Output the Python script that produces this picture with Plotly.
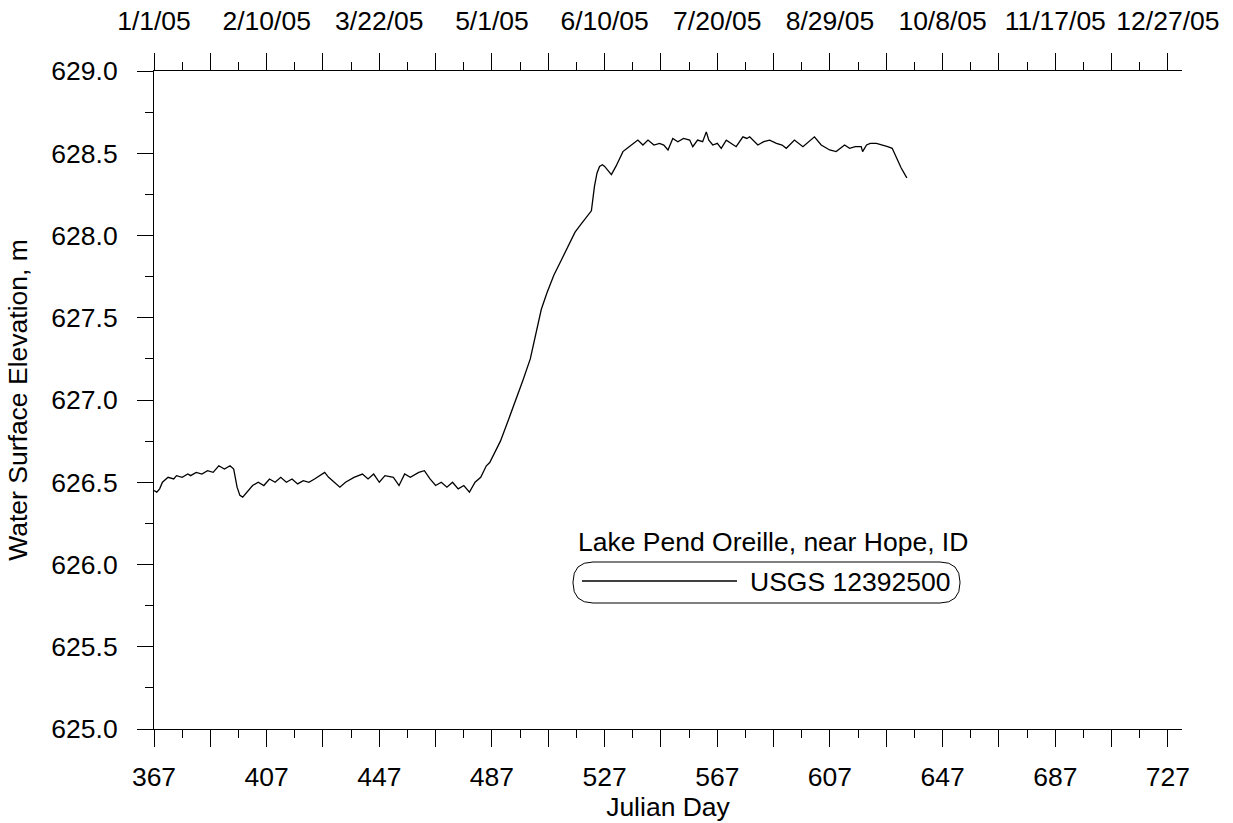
import plotly.graph_objects as go

# ---- data ----
julian_day = [367, 368, 369, 370, 372, 374, 375, 377, 379, 380, 382, 384, 386, 388, 390, 392, 394, 395.3,
              396.5, 397.5, 398.5, 400, 402, 404, 406, 408, 410, 412, 414, 416, 418, 420, 422, 424, 426,
              427.6, 429, 431, 433, 435, 438, 441, 443, 445, 447, 449, 452, 454, 456, 458, 461, 463, 465,
              467, 469, 471, 473, 475, 477, 479, 481, 483, 485, 486.2, 488, 490, 492, 494, 496, 498, 500.6,
              502.5, 504.5, 506.5, 509, 511.6, 514.6, 516.5, 518.7, 521, 522.3, 523.4, 524.3, 525.2, 526.2,
              527, 528.3, 529.4, 531, 532.3, 533.5, 535, 536.5, 538.8, 540.6, 542.4, 544.5, 546.5, 548,
              549.5, 551.2, 553, 555, 557.2, 558.3, 560, 561.8, 563.1, 564, 565.4, 567, 568.4, 570.2, 572,
              573.7, 576.1, 577.5, 578.5, 581.4, 583.5, 585.6, 588, 590, 591.5, 594.4, 597.4, 599.5, 601.5,
              603.9, 606.9, 609.2, 612.2, 614, 616, 618.1, 618.6, 620, 621.3, 623.5, 625.8, 627.5, 629.1,
              630.5, 632.3, 634.3]
elevation_m = [626.45, 626.44, 626.46, 626.50, 626.53, 626.52, 626.54, 626.53, 626.55, 626.54, 626.56,
               626.55, 626.57, 626.56, 626.60, 626.58, 626.60, 626.58,
               626.47, 626.42, 626.41, 626.44, 626.48, 626.50, 626.48, 626.52, 626.50, 626.53, 626.50,
               626.52, 626.49, 626.51, 626.50, 626.52, 626.54,
               626.56, 626.53, 626.50, 626.47, 626.50, 626.53, 626.55, 626.52, 626.55, 626.50, 626.54,
               626.53, 626.48, 626.55, 626.53, 626.56, 626.57, 626.52,
               626.48, 626.50, 626.47, 626.50, 626.46, 626.48, 626.44, 626.50, 626.53, 626.60, 626.62,
               626.68, 626.75, 626.84, 626.93, 627.02, 627.12, 627.25,
               627.40, 627.55, 627.65, 627.76, 627.85, 627.95, 628.02, 628.07, 628.12, 628.15, 628.30,
               628.38, 628.42, 628.43,
               628.42, 628.39, 628.37, 628.42, 628.47, 628.51, 628.53, 628.55, 628.58, 628.55, 628.58,
               628.55, 628.56, 628.55,
               628.52, 628.59, 628.57, 628.59, 628.58, 628.54, 628.58, 628.57, 628.63, 628.58, 628.55,
               628.56, 628.53, 628.58, 628.56,
               628.54, 628.60, 628.59, 628.60, 628.55, 628.57, 628.58, 628.56, 628.55, 628.53, 628.58,
               628.54, 628.57, 628.60,
               628.55, 628.52, 628.51, 628.55, 628.53, 628.54, 628.54, 628.51, 628.55, 628.56, 628.56,
               628.55, 628.54, 628.53,
               628.48, 628.41, 628.35]

series_name = "USGS 12392500"
legend_title = "Lake Pend Oreille, near Hope, ID"

major_x_ticks = list(range(367, 728, 20))
bottom_labels = ["367", "", "407", "", "447", "", "487", "", "527", "", "567", "", "607", "", "647", "",
                 "687", "", "727"]
top_labels = ["1/1/05", "", "2/10/05", "", "3/22/05", "", "5/1/05", "", "6/10/05", "", "7/20/05", "",
              "8/29/05", "", "10/8/05", "", "11/17/05", "", "12/27/05"]

# ---- layout geometry ----
W, H = 1233, 823
L, R, T, B = 154, 51, 71, 94
PW, PH = W - L - R, H - T - B
FONT = "Liberation Sans, Arial, sans-serif"
FS = 26.5


def px(x):
    return (x - L) / PW


def py(y):
    return (H - B - y) / PH


fig = go.Figure()
fig.add_trace(go.Scatter(x=julian_day, y=elevation_m, mode="lines", name=series_name,
                         line=dict(color="black", width=1.3), showlegend=False))
fig.add_trace(go.Scatter(x=[], y=[], xaxis="x2", showlegend=False, hoverinfo="skip"))

axis_common = dict(showline=True, linecolor="black", linewidth=1, showgrid=False, zeroline=False,
                   ticks="outside", ticklen=17, tickcolor="black", tickwidth=1, automargin=False,
                   tickfont=dict(family=FONT, size=FS, color="black"))

fig.update_layout(
    width=W, height=H,
    margin=dict(l=L, r=R, t=T, b=B, pad=0, autoexpand=False),
    paper_bgcolor="white", plot_bgcolor="white",
    font=dict(family=FONT, size=FS, color="black"),
    xaxis=dict(range=[367, 732], tickmode="array", tickvals=major_x_ticks, ticktext=bottom_labels,
               minor=dict(dtick=10, tick0=367, ticks="outside", ticklen=8, tickcolor="black"),
               title=dict(text="Julian Day", standoff=3, font=dict(family=FONT, size=FS)),
               ticklabelstandoff=7,
               **axis_common),
    xaxis2=dict(range=[367, 732], overlaying="x", side="top", anchor="y", tickmode="array",
                tickvals=major_x_ticks, ticktext=top_labels,
                minor=dict(dtick=10, tick0=367, ticks="outside", ticklen=8, tickcolor="black"),
                ticklabelstandoff=12,
                **axis_common),
    yaxis=dict(range=[625, 629], dtick=0.5, tick0=625, tickformat=".1f",
               minor=dict(dtick=0.25, tick0=625, ticks="outside", ticklen=8, tickcolor="black"),
               title=dict(text="Water Surface Elevation, m", standoff=16, font=dict(family=FONT, size=FS)),
               ticklabelstandoff=14,
               **{**axis_common, "ticklen": 16}),
)

# ---- manual legend (rounded box) ----
bx0, bx1, by0, by1 = 573, 960, 562, 603
r = 20
path = (f"M {px(bx0 + r)},{py(by0)} L {px(bx1 - r)},{py(by0)} "
        f"Q {px(bx1)},{py(by0)} {px(bx1)},{py(by0 + r)} "
        f"L {px(bx1)},{py(by1 - r)} Q {px(bx1)},{py(by1)} {px(bx1 - r)},{py(by1)} "
        f"L {px(bx0 + r)},{py(by1)} Q {px(bx0)},{py(by1)} {px(bx0)},{py(by1 - r)} "
        f"L {px(bx0)},{py(by0 + r)} Q {px(bx0)},{py(by0)} {px(bx0 + r)},{py(by0)} Z")
fig.add_shape(type="path", path=path, xref="paper", yref="paper",
              line=dict(color="black", width=1), fillcolor="rgba(0,0,0,0)")
fig.add_shape(type="line", xref="paper", yref="paper", x0=px(582), x1=px(737), y0=py(581), y1=py(581),
              line=dict(color="black", width=1.3))
fig.add_annotation(x=px(748), y=py(582), xref="paper", yref="paper", text=series_name, showarrow=False,
                   xanchor="left", yanchor="middle", font=dict(family=FONT, size=FS, color="black"))
fig.add_annotation(x=px(576), y=py(542), xref="paper", yref="paper", text=legend_title, showarrow=False,
                   xanchor="left", yanchor="middle", font=dict(family=FONT, size=FS, color="black"))

fig.write_html("out.html")
